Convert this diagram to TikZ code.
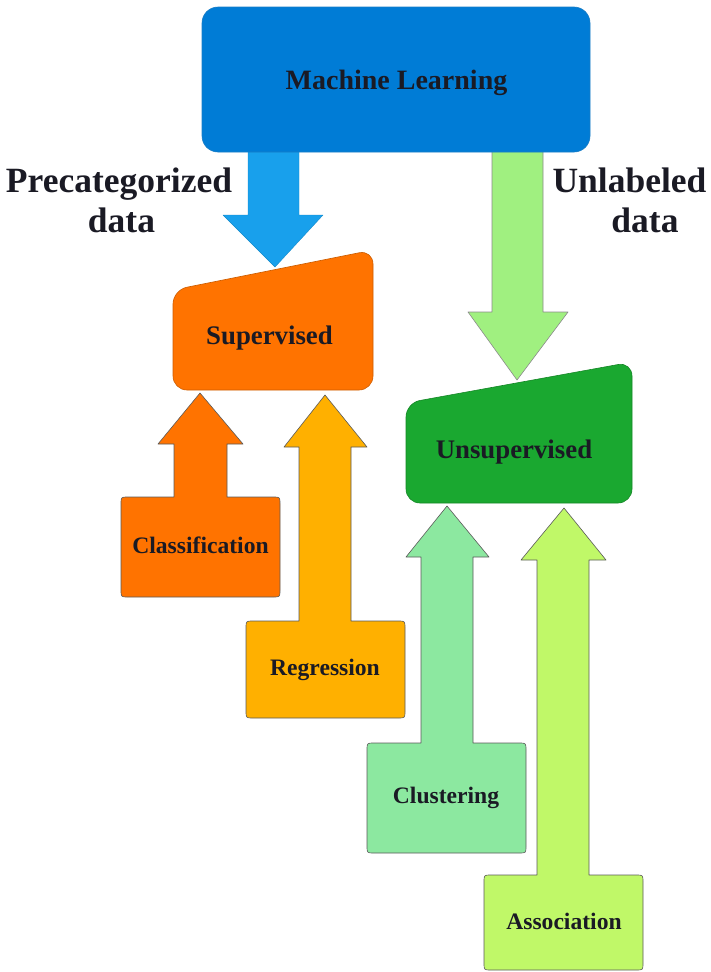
\documentclass[tikz,border=0pt]{standalone}
\usepackage{fontspec}
\setmainfont{Liberation Serif}
\definecolor{mlblue}{HTML}{007CD6}
\definecolor{arrblue}{HTML}{18A0EC}
\definecolor{suporange}{HTML}{FF7300}
\definecolor{arrgreen}{HTML}{A0F080}
\definecolor{unsgreen}{HTML}{1AA830}
\definecolor{regyellow}{HTML}{FFB000}
\definecolor{clugreen}{HTML}{8CE8A0}
\definecolor{asslime}{HTML}{C0F868}
\definecolor{txt}{HTML}{1A1A24}
\definecolor{edge}{HTML}{5A5A5A}
\begin{document}
\begin{tikzpicture}[x=1pt,y=-1pt,
  shapeline/.style={draw=edge,line width=0.6pt,line join=round},
  lbl/.style={inner sep=0pt,anchor=base,text=txt,font=\bfseries},
  bigtxt/.style={lbl,font=\bfseries\fontsize{28}{30}\selectfont},
  midtxt/.style={lbl,font=\bfseries\fontsize{26.8}{29}\selectfont},
  smalltxt/.style={lbl,font=\bfseries\fontsize{23.6}{26}\selectfont},
  sidetxt/.style={lbl,font=\bfseries\fontsize{35.5}{40}\selectfont}]
\useasboundingbox (0,0) rectangle (711,972);

% block arrows from Machine Learning
\path[fill=arrblue,draw=arrblue!85!black,line width=0.4pt,line join=round]
  (248,150) -- (248,215) -- (223,215) -- (275,267) -- (323,215) -- (299,215) -- (299,150) -- cycle;
\path[fill=arrgreen,shapeline,draw=edge!70]
  (492,150) -- (492,312) -- (468,312) -- (517,380) -- (568,312) -- (543,312) -- (543,150) -- cycle;

% Machine Learning box
\path[fill=mlblue,draw=mlblue!80!gray,line width=0.6pt,rounded corners=16]
  (202,7) rectangle (590,152);

% Supervised / Unsupervised boxes
\path[fill=suporange,shapeline,draw=suporange!80!black,rounded corners=14]
  (173,290) -- (373,250) -- (373,390) -- (173,390) -- cycle;
\path[fill=unsgreen,shapeline,draw=unsgreen!80!black,rounded corners=14]
  (406,403) -- (632,362) -- (632,503) -- (406,503) -- cycle;

% Classification
\path[fill=suporange,shapeline]
  (174,497) -- (128,497) .. controls (121,497) .. (121,504) -- (121,590)
  .. controls (121,597) .. (128,597) -- (273,597) .. controls (280,597) .. (280,590)
  -- (280,504) .. controls (280,497) .. (273,497) -- (227,497) -- (227,444)
  -- (243,444) -- (200,393) -- (158,444) -- (174,444) -- cycle;
% Regression
\path[fill=regyellow,shapeline]
  (299,621) -- (253,621) .. controls (246,621) .. (246,628) -- (246,711)
  .. controls (246,718) .. (253,718) -- (398,718) .. controls (405,718) .. (405,711)
  -- (405,628) .. controls (405,621) .. (398,621) -- (351,621) -- (351,447)
  -- (367,447) -- (325,395) -- (284,447) -- (299,447) -- cycle;
% Clustering
\path[fill=clugreen,shapeline]
  (421,743) -- (374,743) .. controls (367,743) .. (367,750) -- (367,846)
  .. controls (367,853) .. (374,853) -- (519,853) .. controls (526,853) .. (526,846)
  -- (526,750) .. controls (526,743) .. (519,743) -- (473,743) -- (473,557)
  -- (489,557) -- (447,506) -- (406,557) -- (421,557) -- cycle;
% Association
\path[fill=asslime,shapeline]
  (537,875) -- (491,875) .. controls (484,875) .. (484,882) -- (484,963)
  .. controls (484,970) .. (491,970) -- (636,970) .. controls (643,970) .. (643,963)
  -- (643,882) .. controls (643,875) .. (636,875) -- (589,875) -- (589,560)
  -- (606,560) -- (564,508) -- (521,560) -- (537,560) -- cycle;

% texts
\node[bigtxt] (ml) at (396.5,89) {Machine Learning};
\node[midtxt] (sup) at (269.5,344) {Supervised};
\node[midtxt] (uns) at (514,458) {Unsupervised};
\node[smalltxt] (cls) at (200.5,553) {Classification};
\node[smalltxt] (reg) at (325,675) {Regression};
\node[smalltxt] (clu) at (446,803) {Clustering};
\node[smalltxt] (ass) at (564,929) {Association};
\node[sidetxt] (pre1) at (119,192) {Precategorized};
\node[sidetxt] (pre2) at (121.5,232) {data};
\node[sidetxt] (unl1) at (629.5,192) {Unlabeled};
\node[sidetxt] (unl2) at (645,232) {data};
\end{tikzpicture}
\end{document}
